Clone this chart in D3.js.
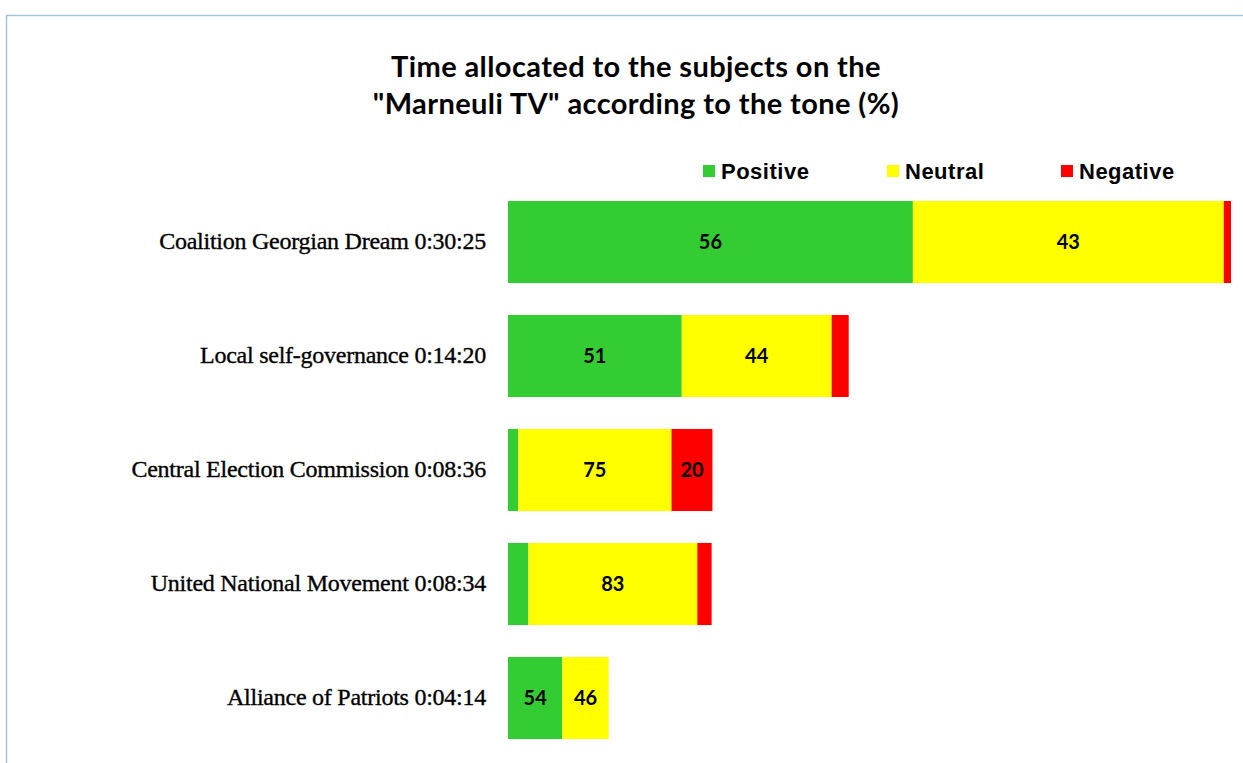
<!DOCTYPE html>
<html>
<head>
<meta charset="utf-8">
<script src="https://cdn.jsdelivr.net/npm/d3@7"></script>
<style>
  body { margin: 0; background: #fff; }
  svg { display: block; }
</style>
</head>
<body>
<div class="chart"></div>
<script>
// subjects, airtime and tone shares (%)
var subjects = ['Coalition Georgian Dream', 'Local self-governance', 'Central Election Commission', 'United National Movement', 'Alliance of Patriots'];
var times = ['0:30:25', '0:14:20', '0:08:36', '0:08:34', '0:04:14'];
var positive = [56, 51, 5, 10, 54];
var neutral = [43, 44, 75, 83, 46];
var negative = [1, 5, 20, 7, 0];
var tones = ['Positive', 'Neutral', 'Negative'];
var colors = ['#33cc33', '#ffff00', '#ff0000'];

var w = 1243, h = 763;

function secs(t) {
	var p = t.split(':').map(Number);
	return p[0] * 3600 + p[1] * 60 + p[2];
}

var rows = subjects.map(function(s, i) {
	var total = secs(times[i]);
	var vals = [positive[i], neutral[i], negative[i]];
	var x0 = 0;
	var segs = vals.map(function(v, j) {
		var seg = { tone: j, pct: v, start: x0, end: x0 + total * v / 100 };
		x0 = seg.end;
		return seg;
	});
	return { name: s + ' ' + times[i], total: total, segs: segs };
});

var svg = d3.select('.chart').append('svg')
	.attr('width', w)
	.attr('height', h);

// frame (only top and left edges are visible)
svg.append('path')
	.attr('d', 'M6.5,' + h + 'V15.5H' + w)
	.attr('fill', 'none')
	.attr('stroke', '#a9c1dc')
	.attr('stroke-width', 1.5);

var title = svg.append('text')
	.attr('x', 636)
	.attr('y', 77)
	.attr('text-anchor', 'middle')
	.style('font-family', 'Lato, "Open Sans", sans-serif')
	.style('font-weight', 'bold')
	.style('font-size', '29px')
	.style('letter-spacing', '0.4px')
	.style('fill', '#000');
title.append('tspan').attr('x', 636).text('Time allocated to the subjects on the');
title.append('tspan').attr('x', 636).attr('dy', 37).text('"Marneuli TV" according to the tone (%)');

var x = d3.scaleLinear()
	.domain([0, d3.max(rows, function(d) { return d.total; })])
	.range([508, 1231]);

var y = d3.scaleBand()
	.domain(rows.map(function(d) { return d.name; }))
	.range([185, 755])
	.paddingInner(0.28)
	.paddingOuter(0.14);

var yAxis = svg.append('g')
	.attr('transform', 'translate(496,0)')
	.call(d3.axisLeft(y).tickSize(0).tickPadding(10));
yAxis.select('.domain').remove();
yAxis.selectAll('text')
	.attr('dy', '0.3em')
	.style('font-family', '"Liberation Serif", "DejaVu Serif", serif')
	.style('font-size', '24px')
	.style('letter-spacing', '-0.25px')
	.style('stroke', '#000')
	.style('stroke-width', '0.35px')
	.style('fill', '#000');

var g = svg.selectAll('g.row')
	.data(rows)
	.enter().append('g')
	.attr('class', 'row')
	.attr('transform', function(d) { return 'translate(0,' + y(d.name) + ')'; });

g.selectAll('rect')
	.data(function(d) { return d.segs; })
	.enter().append('rect')
	.attr('x', function(d) { return x(d.start); })
	.attr('width', function(d) { return x(d.end) - x(d.start); })
	.attr('height', y.bandwidth())
	.attr('fill', function(d) { return colors[d.tone]; });

g.selectAll('text.val')
	.data(function(d) { return d.segs.filter(function(s) { return s.pct >= 15; }); })
	.enter().append('text')
	.attr('class', 'val')
	.attr('x', function(d) { return (x(d.start) + x(d.end)) / 2; })
	.attr('y', y.bandwidth() / 2)
	.attr('dy', '0.36em')
	.attr('text-anchor', 'middle')
	.style('font-family', 'Lato, "Open Sans", sans-serif')
	.style('font-weight', 'bold')
	.style('font-size', '20px')
	.style('fill', '#000')
	.text(function(d) { return d.pct; });

// legend
var legendX = [703, 887, 1061];
var lg = svg.selectAll('g.legend')
	.data(tones)
	.enter().append('g')
	.attr('class', 'legend')
	.attr('transform', function(d, i) { return 'translate(' + legendX[i] + ',165)'; });
lg.append('rect')
	.attr('width', 12)
	.attr('height', 12)
	.attr('fill', function(d, i) { return colors[i]; });
lg.append('text')
	.attr('x', 18)
	.attr('y', 13.5)
	.style('font-family', '"Liberation Sans", Arial, sans-serif')
	.style('font-weight', 'bold')
	.style('font-size', '22px')
	.style('letter-spacing', '0.5px')
	.style('fill', '#000')
	.text(function(d) { return d; });
</script>
</body>
</html>
